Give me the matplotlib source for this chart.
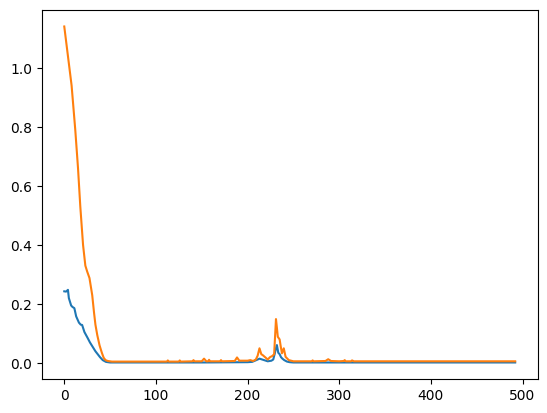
"""
Plot two loss curves (blue and orange) over training steps.
"""

import matplotlib
matplotlib.use("Agg")
import matplotlib.pyplot as plt

# Blue curve: values
blue_x = [0, 2, 4, 5, 7.5, 9, 11, 13, 16, 18, 19.5, 22, 25.5, 28, 31, 34,
          36.5, 39, 42, 45.5, 50, 100, 150, 200, 205, 208, 211, 213, 216,
          218, 222, 226, 228, 229.5, 231, 232, 233.5, 235, 236.5, 238, 240,
          243, 246, 250, 300, 492]
blue_y = [0.243, 0.242, 0.248, 0.22, 0.195, 0.19, 0.186, 0.158, 0.137, 0.13,
          0.129, 0.105, 0.085, 0.07, 0.055, 0.04, 0.03, 0.02, 0.01, 0.004,
          0.002, 0.002, 0.002, 0.003, 0.004, 0.008, 0.012, 0.015, 0.012,
          0.01, 0.006, 0.008, 0.012, 0.03, 0.05, 0.061, 0.035, 0.03, 0.02,
          0.015, 0.01, 0.005, 0.003, 0.002, 0.002, 0.002]

# Orange curve: values
orange_x = [0, 4, 8, 12, 15, 17.5, 20.5, 23, 25, 27.5, 30.5, 32.5, 34, 36,
            38.5, 41, 43, 45, 47.5, 52, 70, 100, 112, 113, 114, 125, 126,
            127, 140, 141, 142, 150, 152.5, 155, 157, 158, 159, 170, 171, 172,
            186, 188.5, 191, 200, 203, 206, 209, 211, 213, 215, 216.5, 219.5,
            222, 224.5, 227, 229, 231, 232, 233, 235, 236, 237.5, 239.5,
            241.5, 245, 250, 270, 271, 272, 285, 288, 291, 300, 305, 306,
            307, 313, 314, 316, 330, 492]
orange_y = [1.14, 1.04, 0.94, 0.79, 0.66, 0.53, 0.4, 0.33, 0.31, 0.288,
            0.23, 0.17, 0.13, 0.095, 0.06, 0.035, 0.018, 0.01, 0.007, 0.005,
            0.005, 0.005, 0.005, 0.009, 0.005, 0.005, 0.009, 0.005, 0.006,
            0.01, 0.006, 0.006, 0.015, 0.006, 0.006, 0.011, 0.006, 0.006,
            0.01, 0.006, 0.007, 0.019, 0.008, 0.008, 0.01, 0.007, 0.012,
            0.025, 0.05, 0.03, 0.027, 0.019, 0.012, 0.02, 0.024, 0.03, 0.149,
            0.12, 0.089, 0.08, 0.06, 0.033, 0.05, 0.021, 0.01, 0.006, 0.006,
            0.009, 0.006, 0.007, 0.013, 0.007, 0.006, 0.007, 0.01, 0.006,
            0.006, 0.009, 0.006, 0.006, 0.006]

fig, ax = plt.subplots(figsize=(6.4, 4.8), dpi=100)
ax.plot(blue_x, blue_y)
ax.plot(orange_x, orange_y)

fig.savefig("out.png", dpi=100, bbox_inches="tight")
